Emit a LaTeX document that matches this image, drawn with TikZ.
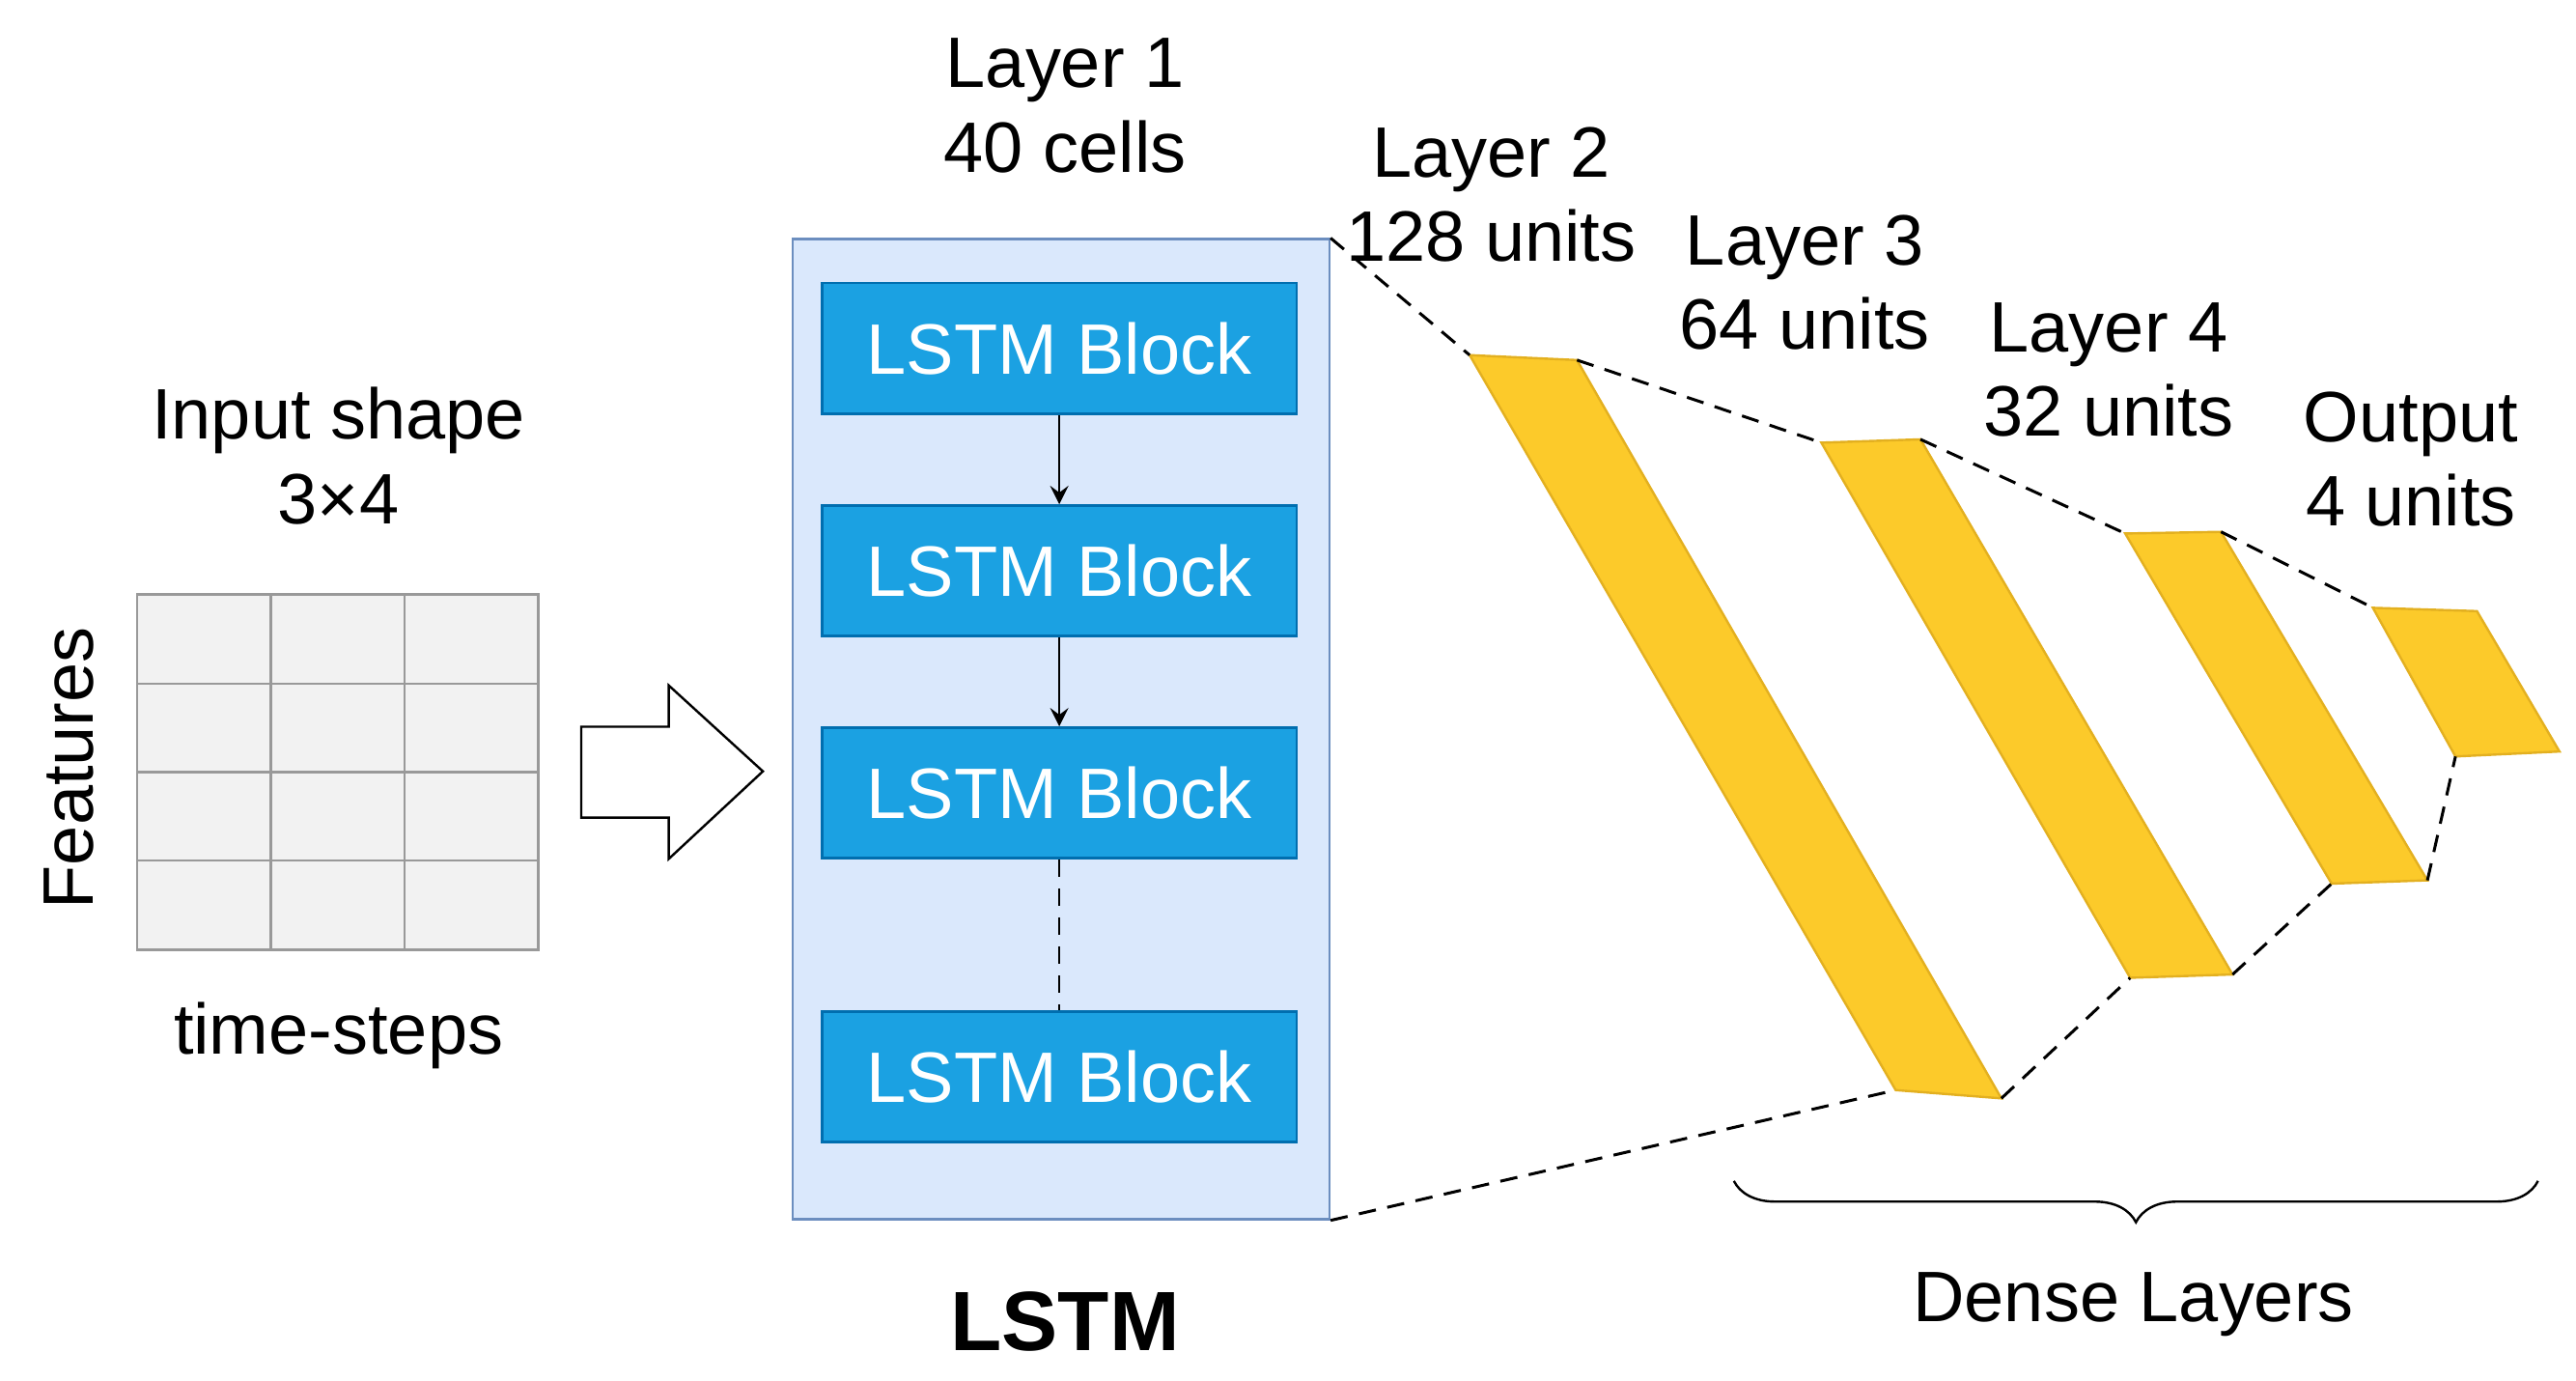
\documentclass[tikz,border=0pt]{standalone}
\usepackage{fontspec}
\setmainfont{Liberation Sans}
\usetikzlibrary{decorations.pathreplacing}
\definecolor{lstmbg}{HTML}{DAE8FC}
\definecolor{lstmline}{HTML}{6C8EBF}
\definecolor{blockfill}{HTML}{1BA1E2}
\definecolor{blockline}{HTML}{006EAF}
\definecolor{densefill}{HTML}{FCCA2A}
\definecolor{denseline}{HTML}{E3B020}
\begin{document}
\begin{tikzpicture}[x=0.01cm,y=-0.01cm,
  lbl/.style={font=\fontsize{12.3}{14.5}\selectfont, align=center},
  block/.style={draw=blockline, fill=blockfill, text=white, minimum width=2.87cm, minimum height=0.79cm, font=\fontsize{12.3}{14.5}\selectfont},
  dense/.style={draw=denseline, fill=densefill},
  link/.style={densely dashed, line width=0.5pt}]
\useasboundingbox (0,0) rectangle (1560,836);

% input grid
\node[draw=gray!80, fill=gray!10, minimum width=2.43cm, minimum height=2.15cm, inner sep=0] at (204.5,467.5) (grid) {};
\foreach \gx in {164,245} \draw[gray!80] (\gx,360) -- (\gx,575);
\foreach \gy in {414,467.5,521} \draw[gray!80] (83,\gy) -- (326,\gy);
\node[lbl] at (205,276) (inshape) {Input shape\\3×4};
\node[lbl, rotate=90] at (42,465) (feat) {Features};
\node[lbl] at (205,627) (tsteps) {time-steps};

% big arrow
\draw (352,440) -- (405,440) -- (405,415) -- (462,467) -- (405,520) -- (405,495) -- (352,495) -- cycle;

% LSTM layer
\node[draw=lstmline, fill=lstmbg, minimum width=3.25cm, minimum height=5.93cm] at (642.5,441.5) (lstm) {};
\node[block] at (641.5,211) (b1) {LSTM Block};
\node[block] at (641.5,345.5) (b2) {LSTM Block};
\node[block] at (641.5,480) (b3) {LSTM Block};
\node[block] at (641.5,652) (b4) {LSTM Block};
\draw[-stealth] (b1) -- (b2);
\draw[-stealth] (b2) -- (b3);
\draw[densely dashed] (b3) -- (b4);
\node[lbl] at (645,64) (l1) {Layer 1\\40 cells};
\node[font=\fontsize{14.5}{17}\selectfont\bfseries] at (645,800) (lstmlbl) {LSTM};

% dense layers
\coordinate (p1a) at (890,215); \coordinate (p1b) at (955,218); \coordinate (p1c) at (1212,665); \coordinate (p1d) at (1148,660);
\coordinate (p2a) at (1103,268); \coordinate (p2b) at (1163,266); \coordinate (p2c) at (1352,590); \coordinate (p2d) at (1290,592);
\coordinate (p3a) at (1287,323); \coordinate (p3b) at (1345,322); \coordinate (p3c) at (1470,533); \coordinate (p3d) at (1412,535);
\coordinate (p4a) at (1437,368); \coordinate (p4b) at (1500,370); \coordinate (p4c) at (1550,455); \coordinate (p4d) at (1487,458);
\draw[dense] (p1a) -- (p1b) -- (p1c) -- (p1d) -- cycle;
\draw[dense] (p2a) -- (p2b) -- (p2c) -- (p2d) -- cycle;
\draw[dense] (p3a) -- (p3b) -- (p3c) -- (p3d) -- cycle;
\draw[dense] (p4a) -- (p4b) -- (p4c) -- (p4d) -- cycle;
\draw[link] (lstm.north east) -- (p1a);
\draw[link] (p1b) -- (p2a);
\draw[link] (p2b) -- (p3a);
\draw[link] (p3b) -- (p4a);
\draw[link] (lstm.south east) -- (p1d);
\draw[link] (p1c) -- (p2d);
\draw[link] (p2c) -- (p3d);
\draw[link] (p3c) -- (p4d);
\node[lbl] at (903,118) (l2) {Layer 2\\128 units};
\node[lbl] at (1093,171) (l3) {Layer 3\\64 units};
\node[lbl] at (1277,224) (l4) {Layer 4\\32 units};
\node[lbl] at (1460,278) (out) {Output\\4 units};

% brace
\coordinate (br1) at (1050,715);
\coordinate (br2) at (1537,715);
\draw[decorate, decoration={brace, mirror, amplitude=0.25cm}] (br1) -- (br2);
\node[lbl] at (1292,790) (densel) {Dense Layers};
\end{tikzpicture}
\end{document}
